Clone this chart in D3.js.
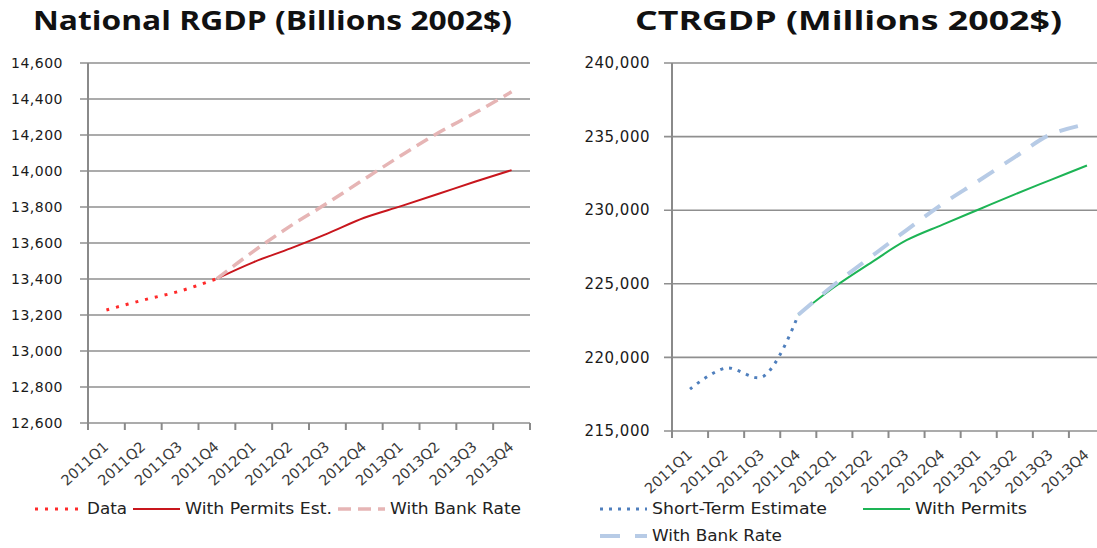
<!DOCTYPE html>
<html>
<head>
<meta charset="utf-8">
<script src="https://cdn.jsdelivr.net/npm/d3@7"></script>
<style>
  body { margin: 0; background: #fff; }
  svg { display: block; }
  .title { font-family: "Open Sans", sans-serif; font-weight: bold; font-size: 27px; fill: #111; }
  .ylab { font-family: "DejaVu Sans", sans-serif; fill: #1a1a1a; letter-spacing: 0.5px; }
  .xlab { font-family: "DejaVu Sans", sans-serif; font-size: 14.5px; fill: #3a3a3a; }
  .leg { font-family: "DejaVu Sans", sans-serif; font-size: 15px; fill: #222; }
</style>
</head>
<body>
<div id="chart"></div>
<script>
var quarters = ['2011Q1','2011Q2','2011Q3','2011Q4','2012Q1','2012Q2','2012Q3','2012Q4','2013Q1','2013Q2','2013Q3','2013Q4'];

// National RGDP (billions 2002$)
var natTicks = [12600,12800,13000,13200,13400,13600,13800,14000,14200,14400,14600];
var natData = [13228,13283,13333,13402,null,null,null,null,null,null,null,null];
var natPermits = [null,null,null,13402,13494,13570,13652,13740,13805,13872,13940,14005];
var natBank = [null,null,null,13402,13555,13695,13822,13955,14086,14211,14322,14440];

// CT RGDP (millions 2002$)
var ctTicks = [215000,220000,225000,230000,235000,240000];
var ctShort = [217850,219280,218670,222900,null,null,null,null,null,null,null,null];
var ctPermits = [null,null,null,222900,224780,226410,227960,229020,230050,231080,232060,233040];
var ctBank = [null,null,null,222900,224950,226810,228650,230430,232000,233610,235160,235850];

var width = 1097, height = 548;

var svg = d3.select('#chart').append('svg')
    .attr('width', width)
    .attr('height', height);

function drawPanel(cfg) {
    var x = d3.scaleBand().domain(quarters).range([cfg.left, cfg.right]);
    var y = d3.scaleLinear().domain(cfg.domain).range([cfg.bottom, cfg.top]);
    var g = svg.append('g');

    // gridlines
    g.selectAll('.grid').data(cfg.ticks).enter().append('line')
        .attr('x1', cfg.left - 8).attr('x2', cfg.right)
        .attr('y1', function(d) { return y(d); })
        .attr('y2', function(d) { return y(d); })
        .attr('stroke', '#8f8f8f')
        .attr('stroke-width', 1.6);

    g.selectAll('.ylab').data(cfg.ticks).enter().append('text')
        .attr('class', 'ylab')
        .attr('x', cfg.labelX)
        .attr('y', function(d) { return y(d); })
        .attr('dy', '0.35em')
        .attr('text-anchor', 'end')
        .style('font-size', cfg.labelSize + 'px')
        .text(d3.format(','));

    // y axis line
    g.append('line')
        .attr('x1', cfg.left).attr('x2', cfg.left)
        .attr('y1', cfg.top).attr('y2', cfg.bottom + 7)
        .attr('stroke', '#8a8a8a').attr('stroke-width', 2);

    // x tick marks between categories
    var edges = quarters.map(function(q) { return x(q); }).concat([cfg.right]);
    g.selectAll('.xtick').data(edges).enter().append('line')
        .attr('x1', function(d) { return d; })
        .attr('x2', function(d) { return d; })
        .attr('y1', cfg.bottom).attr('y2', cfg.bottom + 7)
        .attr('stroke', '#8a8a8a').attr('stroke-width', 2);

    g.selectAll('.xlab').data(quarters).enter().append('text')
        .attr('class', 'xlab')
        .attr('text-anchor', 'end')
        .attr('transform', function(d) {
            return 'translate(' + (x(d) + x.bandwidth() / 2 + 3) + ',' + (cfg.bottom + 25) + ') rotate(-42)';
        })
        .text(function(d) { return d; });

    var cx = function(d, i) { return x(quarters[i]) + x.bandwidth() / 2; };

    cfg.series.forEach(function(s) {
        var line = d3.line()
            .defined(function(d) { return d != null; })
            .x(cx)
            .y(function(d) { return y(d); })
            .curve(d3.curveCatmullRom.alpha(0.5));
        g.append('path')
            .datum(s.values)
            .attr('d', line)
            .attr('fill', 'none')
            .attr('stroke', s.color)
            .attr('stroke-width', s.width)
            .attr('stroke-dasharray', s.dash || null);
    });

    // title
    svg.append('text')
        .attr('class', 'title')
        .attr('x', cfg.titleX)
        .attr('y', 30)
        .attr('textLength', cfg.titleLen)
        .attr('lengthAdjust', 'spacingAndGlyphs')
        .text(cfg.title);

    // legend
    var leg = svg.append('g');
    cfg.legend.forEach(function(l) {
        var s = cfg.series[l.idx];
        leg.append('line')
            .attr('x1', l.x).attr('x2', l.x + 47)
            .attr('y1', l.y).attr('y2', l.y)
            .attr('stroke', s.color)
            .attr('stroke-width', s.width)
            .attr('stroke-dasharray', s.legDash || s.dash || null);
        leg.append('text')
            .attr('class', 'leg')
            .attr('x', l.x + 52)
            .attr('y', l.y)
            .attr('dy', '0.35em')
            .attr('textLength', l.len)
            .attr('lengthAdjust', 'spacingAndGlyphs')
            .text(s.name);
    });
}

drawPanel({
    left: 88, right: 530, top: 63, bottom: 423,
    domain: [12600, 14600], ticks: natTicks, labelX: 63, labelSize: 14,
    title: 'National RGDP (Billions 2002$)', titleX: 33, titleLen: 479,
    series: [
        {name: 'Data', values: natData, color: '#ff2a2a', width: 3, dash: '3,7'},
        {name: 'With Permits Est.', values: natPermits, color: '#c8161d', width: 2},
        {name: 'With Bank Rate', values: natBank, color: '#e6b5b5', width: 3.5, dash: '13,7'}
    ],
    legend: [
        {idx: 0, x: 35, y: 509, len: 40},
        {idx: 1, x: 133, y: 509, len: 147},
        {idx: 2, x: 338, y: 509, len: 131}
    ]
});

drawPanel({
    left: 672, right: 1105, top: 63, bottom: 431,
    domain: [215000, 240000], ticks: ctTicks, labelX: 650, labelSize: 15,
    title: 'CTRGDP (Millions 2002$)', titleX: 635, titleLen: 427,
    series: [
        {name: 'Short-Term Estimate', values: ctShort, color: '#4f7fbd', width: 3, dash: '3,6'},
        {name: 'With Permits', values: ctPermits, color: '#1db455', width: 2},
        {name: 'With Bank Rate', values: ctBank, color: '#b7cbe6', width: 4, dash: '19,13', legDash: '20,15'}
    ],
    legend: [
        {idx: 0, x: 600, y: 509, len: 175},
        {idx: 1, x: 863, y: 509, len: 112},
        {idx: 2, x: 600, y: 536, len: 130}
    ]
});
</script>
</body>
</html>
